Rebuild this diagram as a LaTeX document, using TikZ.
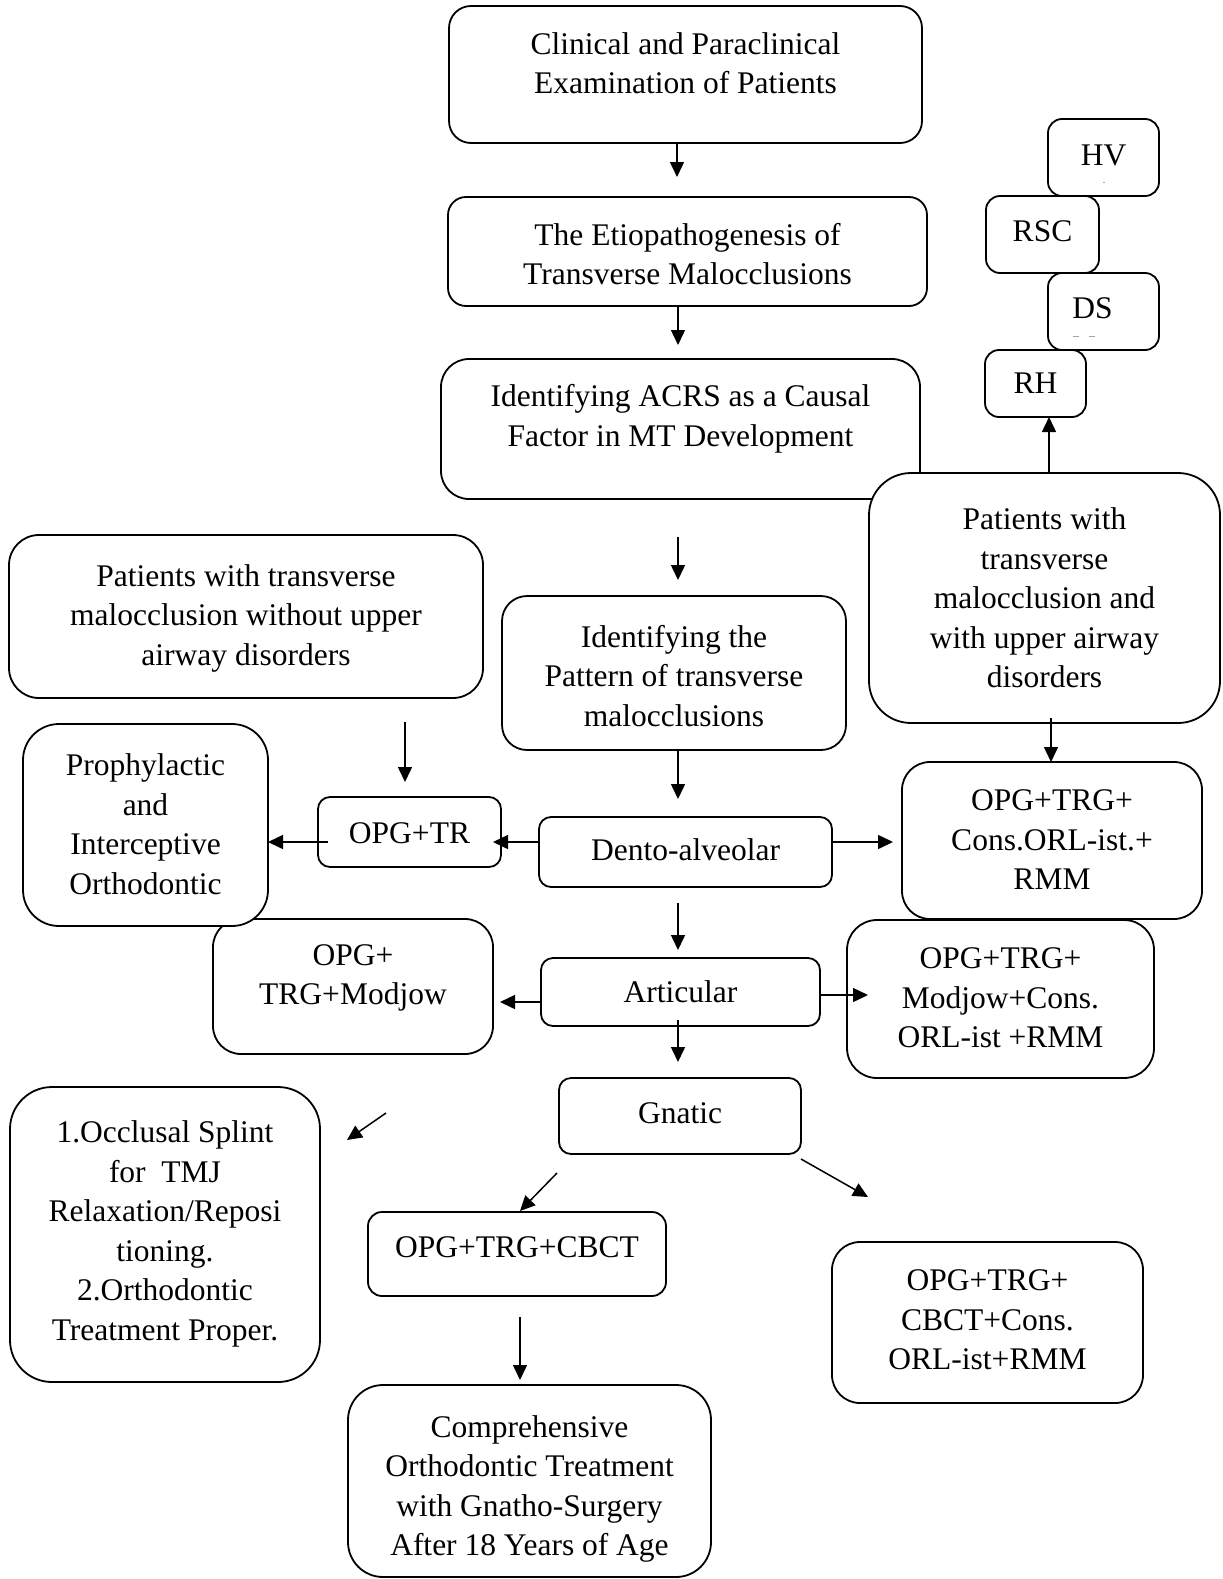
\documentclass[tikz,border=0pt]{standalone}
\usepackage{fontspec}
\setmainfont{Liberation Serif}
\usetikzlibrary{arrows.meta,calc}
\tikzset{
  box/.style={draw, fill=white, line width=1.8pt, rounded corners=#1, inner sep=0pt, outer sep=0pt},
  box/.default=14pt,
  txt/.style={align=center, inner sep=0pt, font=\fontsize{31.5}{39.5}\selectfont},
  arr/.style={line width=1.5pt, -{Triangle[length=15pt,width=14pt]}},
  speck/.style={line width=0.7pt, gray!70},
}
\newcommand\bx[6]{%
  \pgfmathsetmacro\cxx{(#2+#3)/2}\pgfmathsetmacro\cyy{(#4+#5)/2}%
  \pgfmathsetmacro\wdd{#3-#2}\pgfmathsetmacro\hgt{#5-#4}%
  \node[box=#6, minimum width=\wdd pt, minimum height=\hgt pt] (#1) at (\cxx,\cyy) {};}
\begin{document}
\begin{tikzpicture}[x=1pt,y=-1pt]
\fill[white] (0,0) rectangle (1223,1579);
\path[use as bounding box] (0,0) rectangle (1223,1579);

% boxes
\bx{b1}{449}{922}{6}{143}{22pt}
\bx{b2}{448}{927}{197}{306}{18pt}
\bx{b3}{441}{920}{359}{499}{28pt}
\bx{b5}{869}{1220}{473}{723}{42pt}
\bx{hv}{1048}{1159}{119}{196}{14pt}
\bx{rsc}{986}{1099}{196}{273}{14pt}
\bx{ds}{1048}{1159}{273}{350}{14pt}
\bx{rh}{985}{1086}{350}{417}{14pt}
\bx{b6}{9}{483}{535}{698}{30pt}
\bx{b4}{502}{846}{596}{750}{25pt}
\bx{b12}{213}{493}{919}{1054}{28pt}
\bx{b7}{23}{268}{724}{926}{36pt}
\bx{b8}{318}{501}{797}{867}{12pt}
\bx{b9}{539}{832}{817}{887}{12pt}
\bx{b10}{902}{1202}{762}{919}{28pt}
\bx{b13}{847}{1154}{920}{1078}{30pt}
\bx{b11}{541}{820}{958}{1026}{12pt}
\bx{b14}{559}{801}{1078}{1154}{12pt}
\bx{b15}{10}{320}{1087}{1382}{42pt}
\bx{b16}{368}{666}{1212}{1296}{14pt}
\bx{b17}{832}{1143}{1242}{1403}{28pt}
\bx{b18}{348}{711}{1385}{1577}{35pt}

% texts
\node[txt] (t1) at (685.5,63) {Clinical and Paraclinical\\Examination of Patients};
\node[txt] (t2) at (687.5,254) {The Etiopathogenesis of\\Transverse Malocclusions};
\node[txt] (t3) at (680.5,419) {Identifying ACRS as a Causal\\Factor in MT Development};
\node[txt] (t5) at (1044.5,598) {Patients with\\transverse\\malocclusion and\\with upper airway\\disorders};
\node[txt] (thv) at (1103.5,155) {HV};
\node[txt] (trsc) at (1042.5,231) {RSC};
\node[txt] (tds) at (1092.5,308) {DS};
\node[txt] (trh) at (1035.5,383) {RH};
\node[txt] (t6) at (246,618) {Patients with transverse\\malocclusion without upper\\airway disorders};
\node[txt] (t4) at (674,676) {Identifying the\\Pattern of transverse\\malocclusions};
\node[txt] (t12) at (353,978) {OPG+\\TRG+Modjow};
\node[txt] (t7) at (145.5,824) {Prophylactic\\and\\Interceptive\\Orthodontic};
\node[txt] (t8) at (409.5,833) {OPG+TR};
\node[txt] (t9) at (685.5,850) {Dento-alveolar};
\node[txt] (t10) at (1052,840) {OPG+TRG+\\Cons.ORL-ist.+\\RMM};
\node[txt] (t13) at (1000.5,998) {OPG+TRG+\\Modjow+Cons.\\ORL-ist +RMM};
\node[txt] (t11) at (680.5,992) {Articular};
\node[txt] (t14) at (680,1113) {Gnatic};
\node[txt] (t15) at (165,1234) {1.Occlusal Splint\\for\ \ TMJ\\Relaxation/Reposi\\tioning.\\2.Orthodontic\\Treatment Proper.};
\node[txt] (t16) at (517,1247) {OPG+TRG+CBCT};
\node[txt] (t17) at (987.5,1320) {OPG+TRG+\\CBCT+Cons.\\ORL-ist+RMM};
\node[txt] (t18) at (529.5,1489) {Comprehensive\\Orthodontic Treatment\\with Gnatho-Surgery\\After 18 Years of Age};

% tiny specks
\draw[speck] (1103,182) -- (1105,182);
\draw[speck] (1073,336) -- (1079,336);
\draw[speck] (1089,336) -- (1095,336);

% guide coordinates
\coordinate (c677) at (677,0);
\coordinate (c678) at (678,0);
\coordinate (c405) at (405,0);
\coordinate (c520) at (520,0);
\coordinate (c1049) at (1049,0);
\coordinate (c1051) at (1051,0);
\coordinate (r842) at (0,842);
\coordinate (r995) at (0,995);
\coordinate (r1002) at (0,1002);
\coordinate (occA) at (386,1113);
\coordinate (occB) at (347,1140);
\coordinate (gnR) at (868,1197);

% connectors
\draw[arr, shorten >=20pt] (c677 |- b1.south) -- (c677 |- b2.north);
\draw[arr, shorten >=14pt] (c678 |- b2.south) -- (c678 |- b3.north);
\draw[arr, shorten <=38pt, shorten >=16pt] (c678 |- b3.south) -- (c678 |- b4.north);
\draw[arr, shorten >=18pt] (c678 |- b4.south) -- (c678 |- b9.north);
\draw[arr, shorten <=16pt, shorten >=8pt] (c678 |- b9.south) -- (c678 |- b11.north);
\draw[arr, shorten <=-6pt, shorten >=16pt] (c678 |- b11.south) -- (c678 |- b14.north);
\draw[arr, shorten >=-8pt] (r842 -| b9.west) -- (r842 -| b8.east);
\draw[arr, shorten <=-10pt] (r842 -| b8.west) -- (r842 -| b7.east);
\draw[arr, shorten >=9pt] (r842 -| b9.east) -- (r842 -| b10.west);
\draw[arr, shorten >=7pt] (r1002 -| b11.west) -- (r1002 -| b12.east);
\draw[arr, shorten >=-21pt] (r995 -| b11.east) -- (r995 -| b13.west);
\draw[arr] (c1049 |- b5.north) -- (c1049 |- rh.south);
\draw[arr, shorten <=-5pt] (c1051 |- b5.south) -- (c1051 |- b10.north);
\draw[arr, shorten <=24pt, shorten >=15pt] (c405 |- b6.south) -- (c405 |- b8.north);
\draw[arr] (occA) -- (occB);
\draw[arr] ($(b14.south west)+(-2,19)$) -- ($(b16.north west)+(152,-1)$);
\draw[arr] ($(b14.south east)+(0,5)$) -- (gnR);
\draw[arr, shorten <=21pt, shorten >=5pt] (c520 |- b16.south) -- (c520 |- b18.north);
\end{tikzpicture}
\end{document}
